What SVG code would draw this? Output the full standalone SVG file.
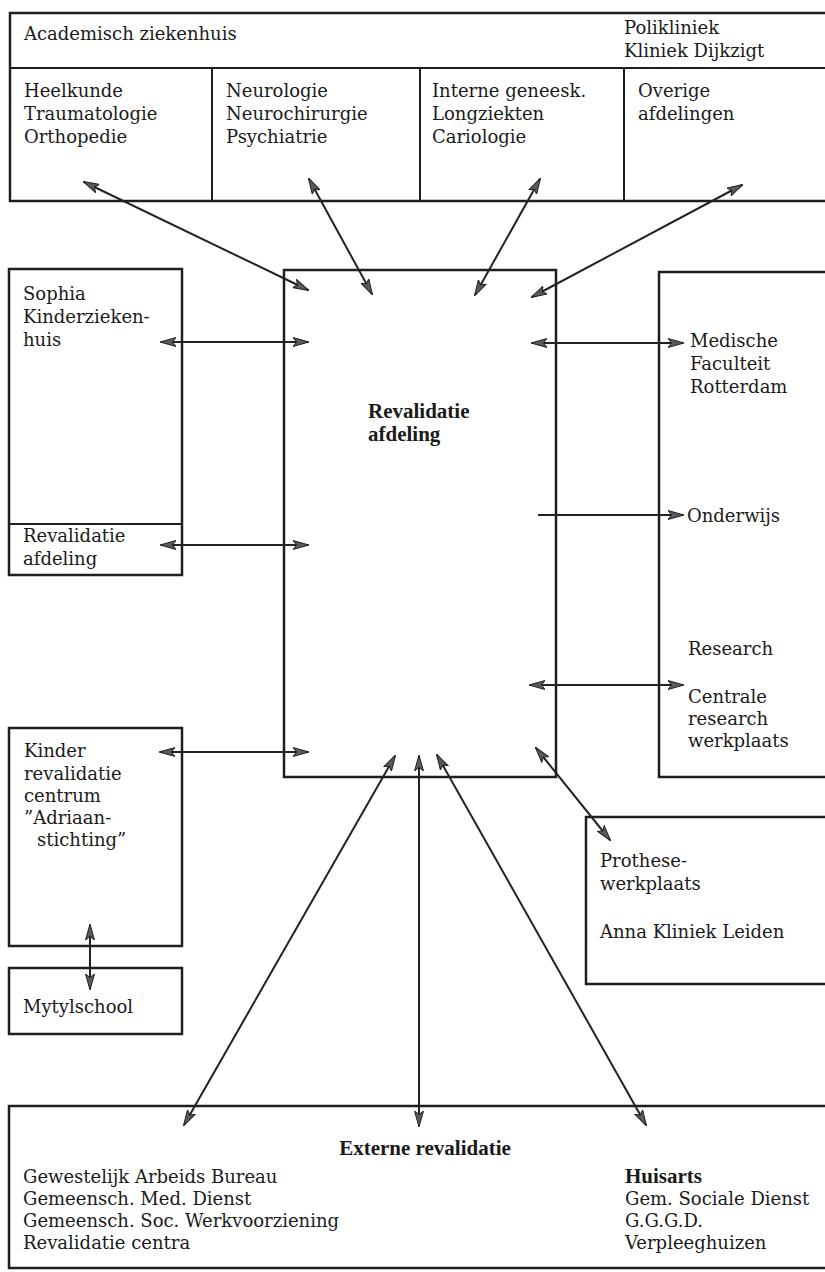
<svg xmlns="http://www.w3.org/2000/svg" width="825" height="1272" viewBox="0 0 825 1272">
<style>
.box{fill:none;stroke:#1e1e1e;stroke-width:2.5}
.div{fill:none;stroke:#1e1e1e;stroke-width:2}
.t{font-family:"DejaVu Serif","Liberation Serif",serif;font-size:18px;fill:#1a1a1a}
.b{font-family:"Liberation Serif","Times New Roman",serif;font-size:21px;font-weight:bold;fill:#1a1a1a}
.c line{stroke:#222;stroke-width:2}
.dbl{marker-start:url(#ah);marker-end:url(#ah)}
.one{marker-end:url(#ah)}
</style>
<defs>
<marker id="ah" viewBox="0 0 16 10" refX="15" refY="5" markerWidth="16" markerHeight="10" markerUnits="userSpaceOnUse" orient="auto-start-reverse">
<path d="M0,0.5 L16,5 L0,9.5 L3.5,5 Z" fill="#5a5a5a" stroke="#222" stroke-width="1" stroke-linejoin="round"/>
</marker>
</defs>
<rect width="825" height="1272" fill="#ffffff"/>

<g id="academisch">
<rect class="box" x="10" y="13" width="830" height="188"/>
<line class="div" x1="10" y1="68" x2="830" y2="68"/>
<line class="div" x1="212" y1="68" x2="212" y2="201"/>
<line class="div" x1="420" y1="68" x2="420" y2="201"/>
<line class="div" x1="624" y1="68" x2="624" y2="201"/>
<text class="t" x="24" y="40">Academisch ziekenhuis</text>
<text class="t" x="624" y="34">Polikliniek</text>
<text class="t" x="624" y="57">Kliniek Dijkzigt</text>
<text class="t" x="24" y="97">Heelkunde</text>
<text class="t" x="24" y="120">Traumatologie</text>
<text class="t" x="24" y="143">Orthopedie</text>
<text class="t" x="226" y="97">Neurologie</text>
<text class="t" x="226" y="120">Neurochirurgie</text>
<text class="t" x="226" y="143">Psychiatrie</text>
<text class="t" x="432" y="97">Interne geneesk.</text>
<text class="t" x="432" y="120">Longziekten</text>
<text class="t" x="432" y="143">Cariologie</text>
<text class="t" x="638" y="97">Overige</text>
<text class="t" x="638" y="120">afdelingen</text>
</g>

<g id="revalidatie-afdeling">
<rect class="box" x="284" y="270" width="272" height="507"/>
<text class="b" x="368" y="418">Revalidatie</text>
<text class="b" x="368" y="441">afdeling</text>
</g>

<g id="sophia">
<rect class="box" x="9" y="269" width="173" height="306"/>
<line class="div" x1="9" y1="524" x2="182" y2="524"/>
<text class="t" x="23" y="300">Sophia</text>
<text class="t" x="23" y="323">Kinderzieken-</text>
<text class="t" x="23" y="346">huis</text>
<text class="t" x="23" y="542">Revalidatie</text>
<text class="t" x="23" y="565">afdeling</text>
</g>

<g id="kinder">
<rect class="box" x="9" y="728" width="173" height="218"/>
<text class="t" x="24" y="757">Kinder</text>
<text class="t" x="24" y="780">revalidatie</text>
<text class="t" x="24" y="802">centrum</text>
<text class="t" x="24" y="824">”Adriaan-</text>
<text class="t" x="37" y="846">stichting”</text>
</g>

<g id="mytylschool">
<rect class="box" x="9" y="968" width="173" height="66"/>
<text class="t" x="23" y="1013">Mytylschool</text>
</g>

<g id="medische">
<rect class="box" x="659" y="272" width="180" height="505"/>
<text class="t" x="690" y="347">Medische</text>
<text class="t" x="690" y="370">Faculteit</text>
<text class="t" x="690" y="393">Rotterdam</text>
<text class="t" x="687" y="522">Onderwijs</text>
<text class="t" x="688" y="655">Research</text>
<text class="t" x="688" y="703">Centrale</text>
<text class="t" x="688" y="725">research</text>
<text class="t" x="688" y="747">werkplaats</text>
</g>

<g id="prothese">
<rect class="box" x="586" y="817" width="250" height="167"/>
<text class="t" x="600" y="867">Prothese-</text>
<text class="t" x="600" y="890">werkplaats</text>
<text class="t" x="600" y="938">Anna Kliniek Leiden</text>
</g>

<g id="externe">
<rect class="box" x="9" y="1106" width="830" height="162"/>
<text class="b" x="425" y="1155" text-anchor="middle">Externe revalidatie</text>
<text class="t" x="23" y="1183">Gewestelijk Arbeids Bureau</text>
<text class="t" x="23" y="1205">Gemeensch. Med. Dienst</text>
<text class="t" x="23" y="1227">Gemeensch. Soc. Werkvoorziening</text>
<text class="t" x="23" y="1249">Revalidatie centra</text>
<text class="b" x="625" y="1183">Huisarts</text>
<text class="t" x="625" y="1205">Gem. Sociale Dienst</text>
<text class="t" x="625" y="1227">G.G.G.D.</text>
<text class="t" x="625" y="1249">Verpleeghuizen</text>
</g>

<g id="connectors" class="c">
<line class="dbl" x1="84" y1="182" x2="308" y2="290"/>
<line class="dbl" x1="309" y1="179" x2="372" y2="294"/>
<line class="dbl" x1="540" y1="179" x2="475" y2="295"/>
<line class="dbl" x1="742" y1="185" x2="532" y2="297"/>
<line class="dbl" x1="161" y1="342" x2="308" y2="342"/>
<line class="dbl" x1="161" y1="545" x2="308" y2="545"/>
<line class="dbl" x1="160" y1="752" x2="308" y2="752"/>
<line class="dbl" x1="90" y1="925" x2="90" y2="989"/>
<line class="dbl" x1="532" y1="343" x2="683" y2="343"/>
<line class="one" x1="538" y1="515" x2="683" y2="515"/>
<line class="dbl" x1="530" y1="685" x2="683" y2="685"/>
<line class="dbl" x1="536" y1="748" x2="610" y2="840"/>
<line class="dbl" x1="395" y1="756" x2="184" y2="1125"/>
<line class="dbl" x1="419" y1="756" x2="419" y2="1126"/>
<line class="dbl" x1="437" y1="755" x2="646" y2="1125"/>
</g>
</svg>
